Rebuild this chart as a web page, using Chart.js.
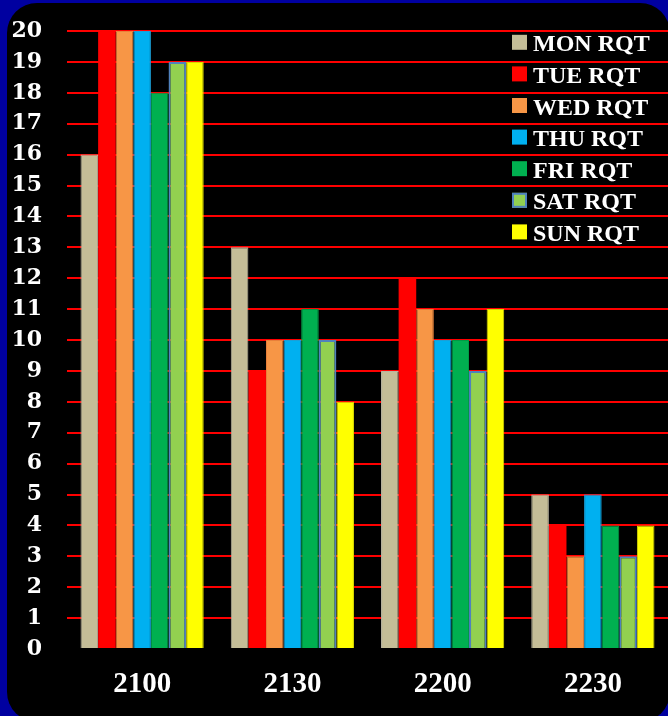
<!DOCTYPE html>
<html>
<head>
<meta charset="utf-8">
<script src="https://cdn.jsdelivr.net/npm/chart.js@4/dist/chart.umd.min.js"></script>
<style>
  html, body { margin: 0; padding: 0; background: #0000A0; width: 668px; height: 716px; overflow: hidden; }
  #frame { position: absolute; left: 7px; top: 3px; width: 663px; height: 719px; background: #000; border-radius: 30px; }
  #wrap { position: absolute; left: 0; top: 0; width: 668px; height: 716px; }
</style>
</head>
<body>
<div id="frame"></div>
<div id="wrap"><canvas id="c" width="668" height="716"></canvas></div>
<script>
const categories = ["2100", "2130", "2200", "2230"];
const seriesNames = ["MON RQT", "TUE RQT", "WED RQT", "THU RQT", "FRI RQT", "SAT RQT", "SUN RQT"];
const monRqt = [16, 13, 9, 5];
const tueRqt = [20, 9, 12, 4];
const wedRqt = [20, 10, 11, 3];
const thuRqt = [20, 10, 10, 5];
const friRqt = [18, 11, 10, 4];
const satRqt = [19, 10, 9, 3];
const sunRqt = [19, 8, 11, 4];
const yTicks = [0, 1, 2, 3, 4, 5, 6, 7, 8, 9, 10, 11, 12, 13, 14, 15, 16, 17, 18, 19, 20];

const seriesValues = [monRqt, tueRqt, wedRqt, thuRqt, friRqt, satRqt, sunRqt];
const fills = ["#C4BD97", "#FF0000", "#F79646", "#00B0F0", "#00B050", "#92D050", "#FFFF00"];
const borders = ["#B8B4A0", "#E00000", "#E8803A", "#1AA0D8", "#009A45", "#4F81BD", "#D8D800"];
const borderWidths = [1, 0, 1, 1, 1, 2, 1];

const datasets = seriesNames.map((name, i) => ({
  label: name,
  data: seriesValues[i],
  backgroundColor: fills[i],
  borderColor: borders[i],
  borderWidth: borderWidths[i],
  barPercentage: 1.0,
  categoryPercentage: 0.82
}));

const legendPlugin = {
  id: 'overlayLegend',
  afterDatasetsDraw(chart) {
    const ctx = chart.ctx;
    ctx.save();
    const x0 = 512, y0 = 42.3, step = 31.6, box = 15;
    chart.data.datasets.forEach((ds, i) => {
      const cy = y0 + i * step;
      ctx.fillStyle = ds.backgroundColor;
      ctx.fillRect(x0, cy - box / 2, box, box);
      if (ds.borderWidth >= 2) {
        ctx.strokeStyle = ds.borderColor;
        ctx.lineWidth = 2;
        ctx.strokeRect(x0 + 1, cy - box / 2 + 1, box - 2, box - 2);
      }
      ctx.fillStyle = '#FFFFFF';
      ctx.font = 'bold 24px "Liberation Serif"';
      ctx.textBaseline = 'alphabetic';
      ctx.textAlign = 'left';
      ctx.fillText(ds.label, 533, cy + 9);
    });
    ctx.restore();
  }
};

new Chart(document.getElementById('c'), {
  type: 'bar',
  data: { labels: categories, datasets: datasets },
  plugins: [legendPlugin],
  options: {
    responsive: false,
    animation: false,
    layout: { padding: { top: 31, right: 0, left: 0, bottom: 0 } },
    plugins: { legend: { display: false }, tooltip: { enabled: false } },
    scales: {
      x: {
        grid: { display: false, drawTicks: false },
        border: { display: false },
        ticks: {
          color: '#FFFFFF',
          font: { family: '"Liberation Serif"', weight: 'bold', size: 29 },
          padding: 18
        },
        afterFit(scale) { scale.height = 67; scale.paddingLeft = 0; scale.paddingRight = 0; }
      },
      y: {
        min: 0, max: 20,
        afterBuildTicks(scale) { scale.ticks = yTicks.map(v => ({ value: v })); },
        grid: {
          drawTicks: false,
          lineWidth: 2,
          color: (c) => (c.tick && c.tick.value === 0) ? 'rgba(0,0,0,0)' : '#FF0000'
        },
        border: { display: false },
        ticks: {
          color: '#FFFFFF',
          font: { family: '"DejaVu Serif"', weight: 'bold', size: 22 },
          padding: 25,
          autoSkip: false
        },
        afterFit(scale) { scale.width = 67; scale.paddingTop = 0; scale.paddingBottom = 0; }
      }
    }
  }
});
</script>
</body>
</html>
